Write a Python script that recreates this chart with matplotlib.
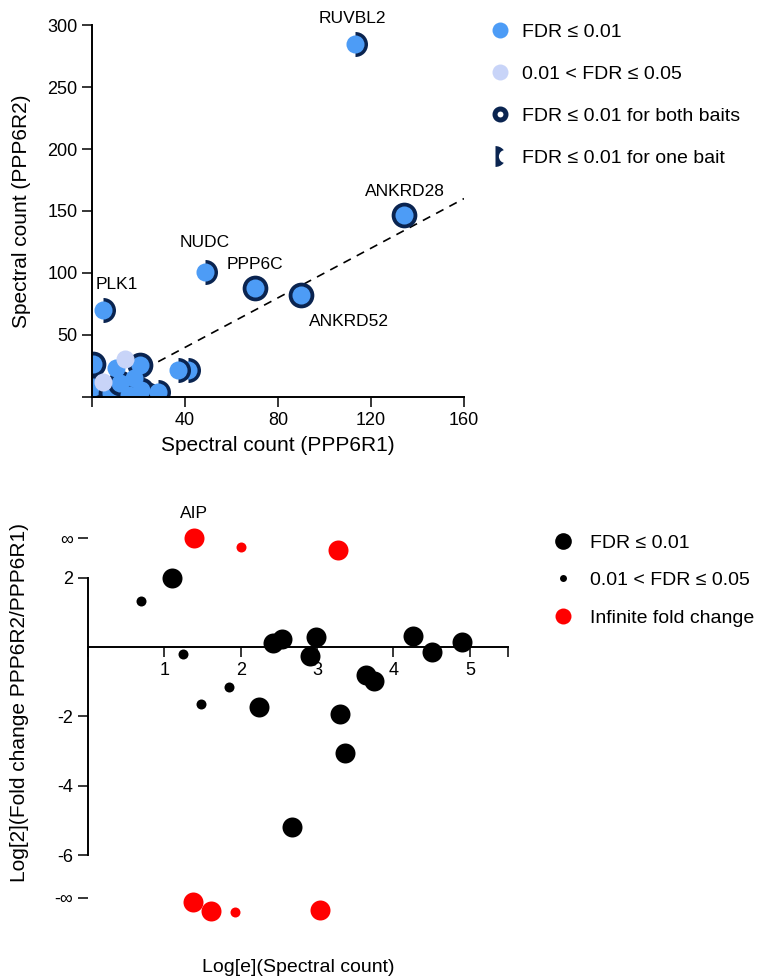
import matplotlib

matplotlib.use("Agg")
import matplotlib.pyplot as plt
from matplotlib.legend_handler import HandlerTuple
from matplotlib.lines import Line2D

plt.rcParams["font.family"] = ["Liberation Sans", "DejaVu Sans"]

# Colours
BLUE = "#4d9cf6"
LIGHT = "#c8d4f8"
NAVY = "#0a2450"
RED = "#ff0000"

# --- Top panel: spectral counts for the two baits ---
prey_names = ["RUVBL2", "ANKRD28", "NUDC", "PPP6C", "ANKRD52", "PLK1"]
r1_counts = [113, 134, 48.5, 70, 90, 4.7,
             0.5, 0.5, 8, 24, 21, 20.5, 12, 10.5, 18, 16, 28.5, 41.5, 37, 4.6, 14]
r2_counts = [285, 147, 101, 88, 82, 70,
             27, 8, 3, 2, 6, 26, 11, 23, 15, 2, 4, 22, 22, 12, 31]
fdr_class = ["strict"] * 19 + ["loose"] * 2
ring_type = ["one", "both", "one", "both", "both", "one",
             "both", "both", "both", "both", "both", "both", "both",
             "none", "none", "none", "one", "one", "one", "none", "none"]
diag = [0, 160]

# label offsets in pixels from the point
label_offsets = {
    "RUVBL2": (-2, 25),
    "ANKRD28": (1, 23),
    "NUDC": (0, 29),
    "PPP6C": (0, 23),
    "ANKRD52": (48, -26),
    "PLK1": (14, 26),
}

# --- Bottom panel: fold change vs abundance ---
ln_count = [1.10, 2.42, 2.54, 2.99, 2.91, 4.25, 4.51, 4.90, 3.64, 3.74, 2.24, 3.30, 3.37, 2.67,
            0.69, 1.24, 1.85, 1.48,
            1.39, 3.27, 1.37, 1.61, 3.04,
            2.00, 1.92]
log2_fc = [1.99, 0.12, 0.22, 0.30, -0.26, 0.32, -0.14, 0.14, -0.81, -0.98, -1.73, -1.93, -3.06, -5.19,
           1.33, -0.20, -1.15, -1.64,
           3.14, 2.80, -7.35, -7.60, -7.58,
           2.88, -7.64]
fc_strict = [True] * 14 + [False] * 4 + [True] * 5 + [False] * 2
fc_infinite = [False] * 18 + [True] * 7
fc_names = {18: "AIP"}

INF_POS = 3.14
NEG_INF_POS = -7.23
y_ticks = [NEG_INF_POS, -6, -4, -2, 2, INF_POS]
y_ticklabels = ["-∞", "-6", "-4", "-2", "2", "∞"]

fig = plt.figure(figsize=(7.64, 9.76), dpi=100)

# ---------------- top panel ----------------
ax1 = fig.add_axes([92 / 764, 1 - 397 / 976, 372 / 764, 372 / 976])
ax1.plot(diag, diag, color="black", linestyle=(0, (5, 4)), linewidth=1.2, zorder=1)

for i, (x, y) in enumerate(zip(r1_counts, r2_counts)):
    z = 2 + i * 0.01
    if ring_type[i] == "both":
        ax1.plot(x, y, "o", ms=18.5, mfc=NAVY, mec="none", zorder=z)
    elif ring_type[i] == "one":
        ax1.plot(x, y, "o", ms=18, fillstyle="right", mfc=NAVY,
                 markerfacecoloralt="none", mec="none", zorder=z)
    fill = BLUE if fdr_class[i] == "strict" else LIGHT
    ax1.plot(x, y, "o", ms=13, mfc=fill, mec="none", zorder=z + 0.005)

for i, name in enumerate(prey_names):
    ax1.annotate(name, (r1_counts[i], r2_counts[i]), xytext=label_offsets[name],
                 textcoords="offset pixels", ha="center", va="center", fontsize=12.5,
                 annotation_clip=False, zorder=5)

ax1.set_xlim(0, 160)
ax1.set_ylim(0, 300)
for side in ("top", "right"):
    ax1.spines[side].set_visible(False)
for side in ("left", "bottom"):
    ax1.spines[side].set_linewidth(1.4)
ax1.spines["bottom"].set_bounds(0, 160)
ax1.spines["left"].set_bounds(0, 300)
ax1.set_xticks([0, 40, 80, 120, 160])
ax1.set_xticklabels(["", "40", "80", "120", "160"])
ax1.set_yticks([0, 50, 100, 150, 200, 250, 300])
ax1.set_yticklabels(["", "50", "100", "150", "200", "250", "300"])
ax1.tick_params(length=7, width=1.1, labelsize=13, pad=3.5)
ax1.set_xlabel("Spectral count (PPP6R1)", fontsize=15)
ax1.set_ylabel("Spectral count (PPP6R2)", fontsize=15)
ax1.xaxis.set_label_coords(0.5, -0.105)
ax1.yaxis.set_label_coords(-0.165, 0.5)

# ---------------- bottom panel ----------------
ax2 = fig.add_axes([88 / 764, 1 - 931.5 / 976, 420 / 764, 409.5 / 976])
for i, (x, y) in enumerate(zip(ln_count, log2_fc)):
    color = RED if fc_infinite[i] else "black"
    size = 14.4 if fc_strict[i] else 7.2
    ax2.plot(x, y, "o", ms=size, mfc=color, mec="none", clip_on=False, zorder=3)
for i, name in fc_names.items():
    ax2.annotate(name, (ln_count[i], log2_fc[i]), xytext=(0, 24),
                 textcoords="offset pixels", ha="center", va="center", fontsize=12.5,
                 annotation_clip=False)

ax2.set_xlim(0, 5.5)
ax2.set_ylim(-8.2, 3.6)
for side in ("top", "right"):
    ax2.spines[side].set_visible(False)
for side in ("left", "bottom"):
    ax2.spines[side].set_linewidth(1.4)
ax2.spines["bottom"].set_position(("data", 0))
ax2.spines["bottom"].set_bounds(0, 5.5)
ax2.spines["left"].set_bounds(-6, 2)
ax2.set_xticks([0, 1, 2, 3, 4, 5, 5.5])
ax2.set_xticklabels(["", "1", "2", "3", "4", "5", ""])
ax2.set_yticks(y_ticks)
ax2.set_yticklabels(y_ticklabels)
ax2.tick_params(length=7, width=1.1, labelsize=13, pad=3.5)
ax2.set_xlabel("Log[e](Spectral count)", fontsize=14)
ax2.set_ylabel("Log[2](Fold change PPP6R2/PPP6R1)", fontsize=15)
ax2.xaxis.set_label_coords(0.5, -0.068)
ax2.yaxis.set_label_coords(-0.14, 0.56)

# ---------------- legends ----------------
top_handles = [
    Line2D([], [], ls="none", marker="o", ms=11.5, mfc=BLUE, mec="none"),
    Line2D([], [], ls="none", marker="o", ms=11.5, mfc=LIGHT, mec="none"),
    Line2D([], [], ls="none", marker="o", ms=7.9, mfc="white", mec=NAVY, mew=3.6),
    (Line2D([], [], ls="none", marker="o", ms=15, fillstyle="right", mfc=NAVY,
            markerfacecoloralt="none", mec="none"),
     Line2D([], [], ls="none", marker="o", ms=9.5, mfc="white", mec="none")),
]
top_labels = ["FDR ≤ 0.01", "0.01 < FDR ≤ 0.05",
              "FDR ≤ 0.01 for both baits", "FDR ≤ 0.01 for one bait"]
fig.legend(top_handles, top_labels, loc="upper left",
           bbox_to_anchor=(490 / 764, 1 - 23 / 976), frameon=False, fontsize=14,
           handlelength=1.0, handletextpad=0.65, labelspacing=1.26,
           borderpad=0, borderaxespad=0,
           handler_map={tuple: HandlerTuple(ndivide=None)})

bottom_handles = [
    Line2D([], [], ls="none", marker="o", ms=12, mfc="black", mec="none"),
    Line2D([], [], ls="none", marker="o", ms=5, mfc="black", mec="none"),
    Line2D([], [], ls="none", marker="o", ms=11.5, mfc=RED, mec="none"),
]
bottom_labels = ["FDR ≤ 0.01", "0.01 < FDR ≤ 0.05", "Infinite fold change"]
fig.legend(bottom_handles, bottom_labels, loc="upper left",
           bbox_to_anchor=(553 / 764, 1 - 534 / 976), frameon=False, fontsize=14,
           handlelength=1.0, handletextpad=0.9, labelspacing=1.03,
           borderpad=0, borderaxespad=0)

fig.savefig("out.png", dpi=100)
plt.close(fig)
